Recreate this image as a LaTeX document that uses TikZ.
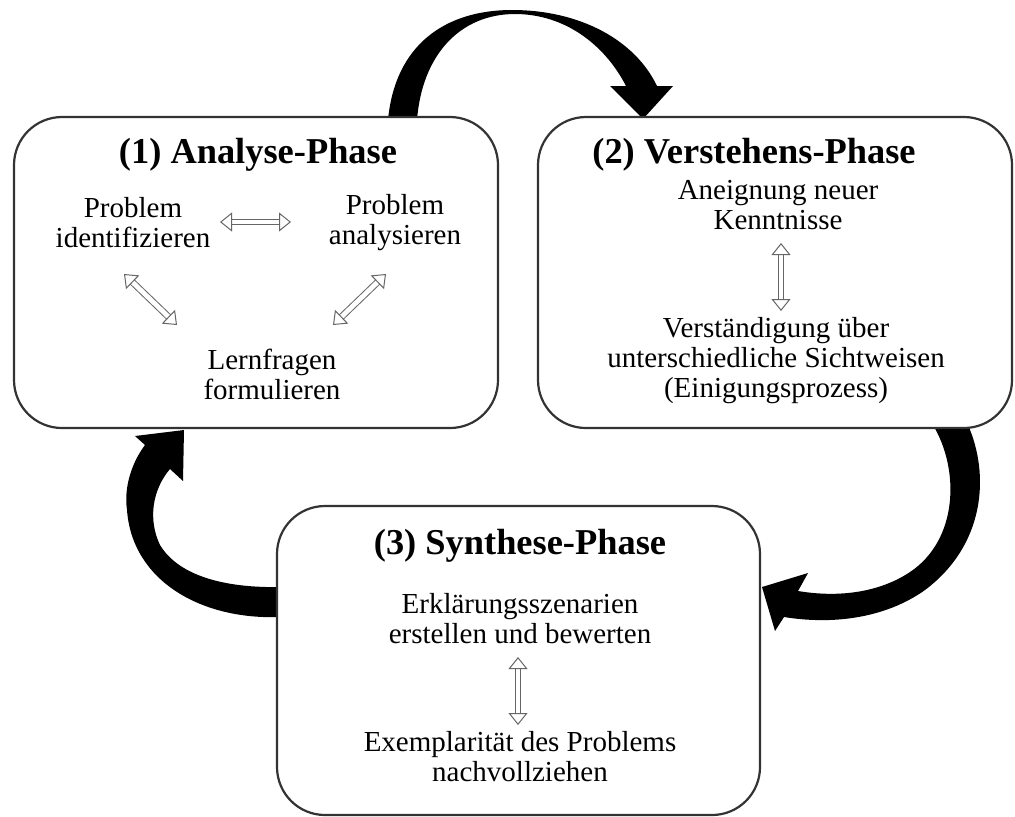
\documentclass[tikz,border=0pt]{standalone}
\usepackage{fontspec}
\setmainfont{Liberation Serif}
\usetikzlibrary{arrows.meta}

\tikzset{
	phase/.style={draw=black!80, line width=1.1pt, fill=white, rounded corners=24pt, inner sep=0pt},
	ttl/.style={font=\fontsize{18.2}{21}\selectfont\bfseries},
	txt/.style={font=\fontsize{14.5}{15}\selectfont, align=center, inner sep=0pt},
	hollow/.style={draw=black!60, line width=0.5pt, double=white, double distance=2.4pt,
		{Triangle[open,length=6pt,width=9.5pt]}-{Triangle[open,length=6pt,width=9.5pt]}}
}

\begin{document}
\begin{tikzpicture}[x=0.5pt,y=-0.5pt]
	\useasboundingbox (0,0) rectangle (1015,816);
	% big curved arrows (behind the boxes)
	\fill (388,120) .. controls (395,45) and (445,10) .. (512,10)
		.. controls (580,10) and (635,40) .. (657,86) -- (673,86) -- (643,119) -- (610,86) -- (626,86)
		.. controls (605,45) and (565,14) .. (515,14) .. controls (460,14) and (422,55) .. (417,120) -- cycle;
	\fill (933,425) .. controls (960,470) and (958,540) .. (910,572)
		.. controls (880,592) and (840,598) .. (798,591) -- (808,573) -- (762,587) -- (775,631) -- (784,617)
		.. controls (840,626) and (890,615) .. (925,590) .. controls (985,545) and (990,475) .. (968,425) -- cycle;
	\fill (280,587) .. controls (230,588) and (180,578) .. (160,545)
		.. controls (148,520) and (152,490) .. (170,469) -- (183,481) -- (184,430) -- (135,436) -- (145,445)
		.. controls (130,465) and (124,490) .. (127,510) .. controls (132,580) and (200,620) .. (280,617) -- cycle;
	% the three phases
	\node[phase, minimum width=242pt, minimum height=155.5pt] (ana) at (256,272.5) {};
	\node[phase, minimum width=237pt, minimum height=155.5pt] (ver) at (775,272.5) {};
	\node[phase, minimum width=241.5pt, minimum height=154.5pt] (syn) at (518.5,660.5) {};
	\node[ttl] (t1) at (258,155) {(1) Analyse-Phase};
	\node[ttl] (t2) at (754,155) {(2) Verstehens-Phase};
	\node[ttl] (t3) at (520,546) {(3) Synthese-Phase};
	\node[txt] (p1) at (133,223) {Problem\\identifizieren};
	\node[txt] (p2) at (395,223) {Problem\\analysieren};
	\node[txt] (p3) at (272,374) {Lernfragen\\formulieren};
	\node[txt] (v1) at (778,205) {Aneignung neuer\\Kenntnisse};
	\node[txt] (v2) at (776,361) {Verständigung über\\unterschiedliche Sichtweisen\\(Einigungsprozess)};
	\node[txt] (s1) at (520,619) {Erklärungsszenarien\\erstellen und bewerten};
	\node[txt] (s2) at (520,757) {Exemplarität des Problems\\nachvollziehen};
	% hollow double arrows
	\foreach \X/\Y [count=\Z] in {220/222, 291/222, 124/274, 177/325, 386/274, 333/325,
	781/243, 781/311, 518/657, 518/725}
	{\coordinate (e\Z) at (\X,\Y);}
	\foreach \A/\B in {1/2, 3/4, 5/6, 7/8, 9/10}
	{\draw[hollow] (e\A) -- (e\B);}
\end{tikzpicture}
\end{document}
